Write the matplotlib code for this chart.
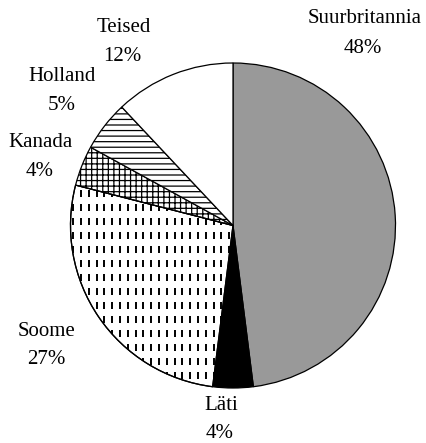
import matplotlib
matplotlib.use("Agg")
import matplotlib.pyplot as plt
import numpy as np
from matplotlib.collections import LineCollection
from matplotlib.patches import Wedge

categories = ["Suurbritannia", "Läti", "Soome", "Kanada", "Holland", "Teised"]
values = [48, 4, 27, 4, 5, 12]
pct_labels = ["48%", "4%", "27%", "4%", "5%", "12%"]

plt.rcParams['font.family'] = ['Liberation Serif', 'DejaVu Serif']
plt.rcParams['hatch.linewidth'] = 0.9

W, H = 427, 443
fig = plt.figure(figsize=(W / 100, H / 100), dpi=100)
ax = fig.add_axes([0, 0, 1, 1])

cx, cy, R = 233, H - 225.5, 162.5
colors = ['#999999', '#000000', 'white', 'white', 'white', 'white']
hatches = [None, None, None, '+++', '---', None]

wedges, _ = ax.pie(values, startangle=90, counterclock=False, center=(cx, cy),
                   radius=R, colors=colors, frame=True,
                   wedgeprops=dict(edgecolor='black', linewidth=0.9))
ax.set_xlim(0, W)
ax.set_ylim(0, H)
ax.set_aspect('equal')
ax.axis('off')
for w, h in zip(wedges, hatches):
    if h:
        w.set_hatch(h)

# dashed-vertical pattern for Soome
segs = []
dx, dy, L = 7.8, 14.0, 7.0
for x in np.arange(cx - R - 5, cx + R + 5, dx):
    for y in np.arange(cy - R - 5, cy + R + 5, dy):
        segs.append([(x, y), (x, y + L)])
lc = LineCollection(segs, colors='black', linewidths=1.4, zorder=wedges[2].get_zorder() + 0.1)
ax.add_collection(lc)
lc.set_clip_path(wedges[2])
w2 = wedges[2]
edge = Wedge(w2.center, w2.r, w2.theta1, w2.theta2, facecolor='none',
             edgecolor='black', linewidth=0.9, zorder=w2.get_zorder() + 0.2)
ax.add_patch(edge)

# label positions (pixels from top-left): name position, percent position
name_pos = [(365, 18), (221, 406), (47, 332), (41, 142), (62, 76), (124, 27)]
pct_pos = [(363, 48), (220, 433), (46, 360), (40, 171), (62, 105), (122, 56)]
for (nx, ny), (qx, qy), name, p in zip(name_pos, pct_pos, categories, pct_labels):
    ax.text(nx, H - ny, name, ha='center', va='center', fontsize=15)
    ax.text(qx, H - qy, p, ha='center', va='center', fontsize=15)

fig.savefig("out.png", dpi=100)
